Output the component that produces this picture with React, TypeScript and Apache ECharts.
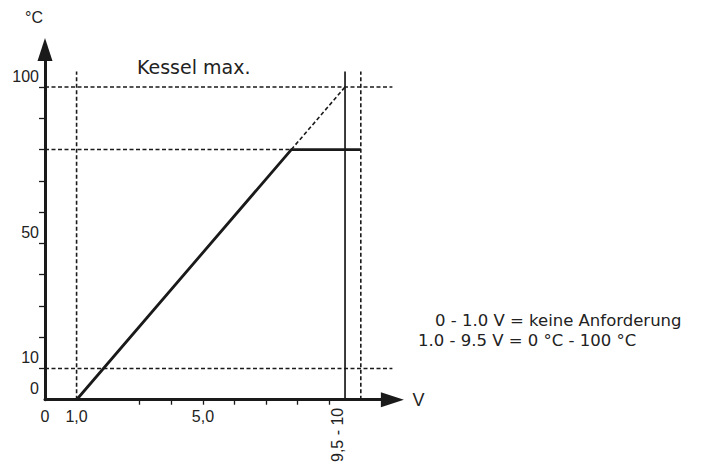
import React, { useEffect, useRef } from "react";
import * as echarts from "echarts";

// Characteristic curve (V -> °C)
const curveV = [1.0, 7.8, 10.0];
const curveT = [0, 80, 80];
// dashed extrapolation up to "Kessel max."
const extV = [7.8, 9.5];
const extT = [80, 100];
// horizontal dashed guide lines: level, end voltage
const hLevels = [100, 80, 10];
const hEnds = [11, 7.8, 11];
// vertical guide lines
const vDashed = [1.0, 10.0];
const vSolid = [9.5];
const vTop = 105;

const xTickValues = [3, 4, 5, 6, 7, 8, 9];
const xLabelValues = [0, 1, 5];
const xLabelTexts = ["0", "1,0", "5,0"];
const xRotLabelValue = 9.5;
const xRotLabelText = "9,5 - 10";
const yTickValues = [10, 20, 30, 40, 50, 60, 70, 80, 90, 100];
const yLabelValues = [0, 10, 50, 100];
const noteLines = ["0 - 1.0 V = keine Anforderung", "1.0 - 9.5 V = 0 °C - 100 °C"];

const INK = "#1a1a1a";
const FONT = "'Liberation Sans', Arial, sans-serif";
const WIDE = "'DejaVu Sans', 'Liberation Sans', sans-serif";

export default function App() {
  const ref = useRef<HTMLDivElement>(null);
  useEffect(() => {
    if (!ref.current) return;
    const chart = echarts.init(ref.current, null, { renderer: "svg" });
    const dashed = { color: INK, width: 1.6, type: [4, 2.5] as any };
    const series: any[] = [];
    hLevels.forEach((lv, i) => {
      series.push({
        type: "line", showSymbol: false, silent: true, lineStyle: dashed,
        data: [[0, lv], [hEnds[i], lv]],
      });
    });
    vDashed.forEach((v) => {
      series.push({
        type: "line", showSymbol: false, silent: true, lineStyle: dashed,
        data: [[v, 0], [v, vTop]],
      });
    });
    vSolid.forEach((v) => {
      series.push({
        type: "line", showSymbol: false, silent: true,
        lineStyle: { color: INK, width: 1.7 },
        data: [[v, 0], [v, vTop]],
      });
    });
    series.push({
      type: "line", showSymbol: false, silent: true, lineStyle: dashed,
      data: extV.map((v, i) => [v, extT[i]]),
    });
    series.push({
      type: "line", showSymbol: false, silent: true,
      lineStyle: { color: INK, width: 2.8 },
      data: curveV.map((v, i) => [v, curveT[i]]),
    });

    const noteStyle = { fontFamily: WIDE, fontSize: 16.5, lineHeight: 19, fontWeight: "normal", color: "#222" };
    chart.setOption({
      animation: false,
      textStyle: { fontFamily: FONT, color: "#222" },
      grid: { left: 45, right: 335.6, top: 49.5, bottom: 65, containLabel: false },
      title: [
        { text: "Kessel max.", left: 137, top: 57, padding: 0,
          textStyle: { fontFamily: WIDE, fontSize: 19, fontWeight: "normal", color: "#222" } },
        { text: noteLines[0], left: 435, top: 311, padding: 0, textStyle: noteStyle },
        { text: noteLines[1], left: 418, top: 330.5, padding: 0, textStyle: noteStyle },
      ],
      xAxis: [
        {
          type: "value", min: 0, max: 11, position: "bottom",
          name: "V", nameLocation: "end", nameGap: 20,
          nameTextStyle: { fontSize: 18, color: "#222", align: "left", verticalAlign: "middle", fontFamily: FONT },
          splitLine: { show: false },
          axisLine: { show: true, lineStyle: { color: INK, width: 3 }, symbol: ["none", "triangle"], symbolSize: [15, 23] },
          axisTick: { show: true, customValues: xTickValues, length: 5, lineStyle: { color: INK, width: 1.3 } },
          axisLabel: {
            customValues: xLabelValues, margin: 9, fontSize: 16, color: "#222", fontFamily: FONT,
            formatter: (v: number) => { const i = xLabelValues.indexOf(v); return i >= 0 ? xLabelTexts[i] : ""; },
          },
        },
        {
          type: "value", min: 0, max: 11, position: "bottom",
          splitLine: { show: false },
          axisLine: { show: false }, axisTick: { show: false },
          axisLabel: {
            customValues: [xRotLabelValue], rotate: 90, margin: 8, fontSize: 16, color: "#222", fontFamily: FONT,
            verticalAlign: "bottom",
            formatter: () => xRotLabelText,
          },
        },
      ],
      yAxis: {
        type: "value", min: 0, max: 112,
        name: "°C", nameLocation: "end", nameGap: 32,
        nameTextStyle: { fontSize: 16, color: "#222", align: "right", verticalAlign: "middle", fontFamily: FONT, padding: [0, 2, 0, 0] },
        splitLine: { show: false },
        axisLine: { show: true, lineStyle: { color: INK, width: 3 }, symbol: ["none", "triangle"], symbolSize: [15, 23] },
        axisTick: { show: true, customValues: yTickValues, length: 6, lineStyle: { color: INK, width: 1.3 } },
        axisLabel: {
          customValues: yLabelValues, margin: 6, fontSize: 16, color: "#222", fontFamily: FONT,
          verticalAlign: "bottom", padding: [0, 0, 3, 0],
        },
      },
      series,
    });
    return () => chart.dispose();
  }, []);
  return (
    <div
      ref={ref}
      style={{ position: "fixed", left: 0, top: 0, width: 728, height: 465, background: "#fff" }}
    />
  );
}
